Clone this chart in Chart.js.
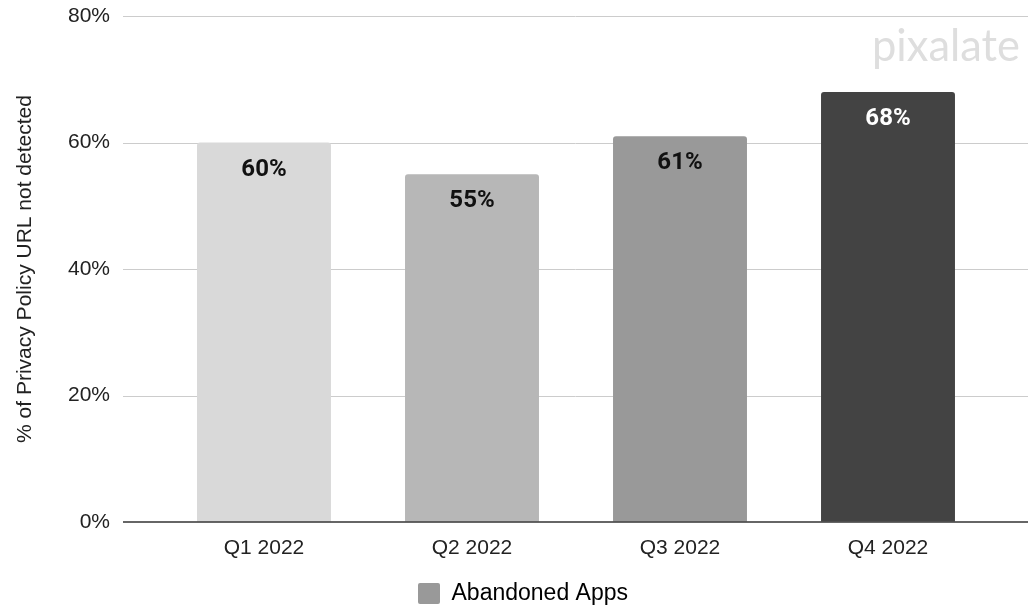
<!DOCTYPE html>
<html lang="en">
<head>
    <meta charset="UTF-8">
    <script src="https://cdn.jsdelivr.net/npm/chart.js"></script>
    <title>Abandoned Apps</title>
</head>
<style>
    body{
        margin: 0;
        background: #fff;
    }
</style>
<body>

    <canvas id="policyChart" width="1031" height="607"></canvas>

<script>
    // Share of abandoned apps with no privacy policy URL, per quarter
    const quarters = ["Q1 2022", "Q2 2022", "Q3 2022", "Q4 2022"];
    const abandonedPct = [60, 55, 61, 68];
    const barColors = ["#d9d9d9", "#b7b7b7", "#999999", "#434343"];
    const yTicks = [0, 20, 40, 60, 80];

    const axisFont = { family: "'Liberation Sans', Arial, sans-serif", size: 21 };

    // horizontal grid lines run a little past the bars on both sides
    const gridLines = {
        id: "gridLines",
        beforeDatasetsDraw(chart) {
            const { ctx, chartArea, scales: { y } } = chart;
            ctx.save();
            ctx.strokeStyle = "#cccccc";
            ctx.lineWidth = 1;
            yTicks.forEach(v => {
                if (v === 0) return;
                const py = Math.round(y.getPixelForValue(v)) + 0.5;
                ctx.beginPath();
                ctx.moveTo(chartArea.left - 37, py);
                ctx.lineTo(chartArea.right + 36, py);
                ctx.stroke();
            });
            ctx.restore();
        },
        afterDatasetsDraw(chart) {
            const { ctx, chartArea, scales: { y } } = chart;
            const py = y.getPixelForValue(0);
            ctx.save();
            ctx.strokeStyle = "#333333";
            ctx.lineWidth = 1.6;
            ctx.beginPath();
            ctx.moveTo(chartArea.left - 37, py);
            ctx.lineTo(chartArea.right + 36, py);
            ctx.stroke();
            ctx.restore();
        }
    };

    // value labels inside the top of each bar
    const barLabels = {
        id: "barLabels",
        afterDatasetsDraw(chart) {
            const { ctx } = chart;
            const meta = chart.getDatasetMeta(0);
            ctx.save();
            ctx.font = "bold 24px Roboto, sans-serif";
            ctx.textAlign = "center";
            ctx.textBaseline = "middle";
            meta.data.forEach((bar, i) => {
                ctx.fillStyle = i === 3 ? "#ffffff" : "#111111";
                ctx.fillText(abandonedPct[i] + "%", bar.x, bar.y + 27);
            });
            ctx.restore();
        }
    };

    // legend sits a bit right of the canvas centre and close to the bottom edge
    const legendShift = {
        id: "legendShift",
        afterLayout(chart) {
            chart.legend.left += 27;
            chart.legend.right += 27;
            chart.legend.top += 8;
            chart.legend.bottom += 8;
        }
    };

    const watermark = {
        id: "watermark",
        afterDraw(chart) {
            const { ctx } = chart;
            ctx.save();
            ctx.font = "44px Lato, sans-serif";
            ctx.fillStyle = "#dedede";
            ctx.textAlign = "right";
            ctx.textBaseline = "alphabetic";
            ctx.fillText("pixalate", 1020, 61, 148);
            ctx.restore();
        }
    };

    const ctx = document.getElementById("policyChart").getContext("2d");
    new Chart(ctx, {
        type: "bar",
        data: {
            labels: quarters,
            datasets: [
                {
                    label: "Abandoned Apps",
                    data: abandonedPct,
                    backgroundColor: barColors,
                    borderRadius: { topLeft: 3, topRight: 3 },
                    borderSkipped: "bottom",
                    categoryPercentage: 1,
                    barPercentage: 0.644,
                },
            ],
        },
        options: {
            responsive: false,
            animation: false,
            layout: {
                padding: { top: 16, right: 39, bottom: 0, left: 0 },
            },
            plugins: {
                tooltip: { enabled: false },
                legend: {
                    position: "bottom",
                    labels: {
                        boxWidth: 22,
                        boxHeight: 21,
                        color: "#222",
                        font: { family: axisFont.family, size: 23 },
                        padding: 0,
                        useBorderRadius: true,
                        generateLabels: () => [{
                            text: "Abandoned Apps",
                            fillStyle: "#999999",
                            strokeStyle: "#999999",
                            lineWidth: 0,
                            borderRadius: 2,
                        }],
                    },
                },
            },
            scales: {
                x: {
                    afterFit: scale => { scale.height = 52; },
                    grid: { display: false, drawTicks: false },
                    border: { display: false },
                    ticks: { color: "#222", font: axisFont, padding: 14 },
                },
                y: {
                    min: 0,
                    max: 80,
                    afterFit: scale => { scale.width = 160; },
                    afterBuildTicks: scale => {
                        scale.ticks = yTicks.map(v => ({ value: v }));
                    },
                    grid: { color: "rgba(0,0,0,0)", drawTicks: true, tickLength: 47 },
                    border: { display: false },
                    ticks: {
                        color: "#222",
                        font: axisFont,
                        padding: 3,
                        callback: v => v + "%",
                    },
                    title: {
                        display: true,
                        text: "% of Privacy Policy URL not detected",
                        color: "#222",
                        font: axisFont,
                        padding: { top: 13, bottom: 0 },
                    },
                },
            },
        },
        plugins: [gridLines, barLabels, legendShift, watermark],
    });
</script>

</body>
</html>
